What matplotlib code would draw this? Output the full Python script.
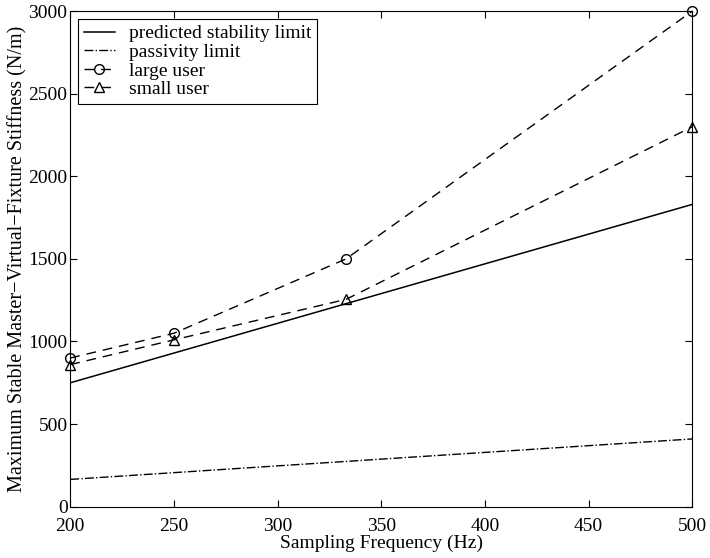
import matplotlib
matplotlib.use("Agg")
import matplotlib.pyplot as plt

plt.rcParams['font.family'] = ['Liberation Serif', 'DejaVu Serif']

# sampling frequencies (Hz)
freq = [200, 250, 333, 500]

# stiffness values (N/m)
predicted = [750, 930, 1229, 1830]
passivity = [165, 206, 274, 410]
large_user = [900, 1050, 1500, 3000]
small_user = [860, 1010, 1255, 2300]

fig = plt.figure(figsize=(7.1, 5.58), dpi=100)
ax = fig.add_axes([0.099, 0.092, 0.876, 0.888])

ax.plot(freq, predicted, '-', color='black', linewidth=1.1, label='predicted stability limit')
ax.plot(freq, passivity, '-.', color='black', linewidth=1.0, label='passivity limit')
ax.plot(freq, large_user, '--', color='black', linewidth=1.0, marker='o',
        markersize=7, markerfacecolor='none', markeredgecolor='black', label='large user',
        dashes=(7, 5), clip_on=False)
ax.plot(freq, small_user, '--', color='black', linewidth=1.0, marker='^',
        markersize=7, markerfacecolor='none', markeredgecolor='black', label='small user',
        dashes=(7, 5), clip_on=False)

ax.set_xlim(200, 500)
ax.set_ylim(0, 3000)
ax.set_xticks([200, 250, 300, 350, 400, 450, 500])
ax.set_yticks([0, 500, 1000, 1500, 2000, 2500, 3000])
ax.tick_params(direction='in', top=True, right=True, labelsize=14, length=5)
ax.tick_params(axis='y', pad=2)
ax.tick_params(axis='x', pad=8)
for s in ax.spines.values():
    s.set_linewidth(0.8)

ax.set_xlabel('Sampling Frequency (Hz)', fontsize=14, labelpad=0)
ax.set_ylabel('Maximum Stable Master\u2212Virtual\u2212Fixture Stiffness (N/m)', fontsize=14.5, labelpad=1)

leg = ax.legend(loc='upper left', fontsize=14, handlelength=1.6, handletextpad=0.7,
                borderpad=0.3, labelspacing=0.05, fancybox=False, framealpha=1,
                borderaxespad=0.4)
leg.get_frame().set_edgecolor('black')
leg.get_frame().set_linewidth(0.8)

fig.savefig('out.png', dpi=100)
